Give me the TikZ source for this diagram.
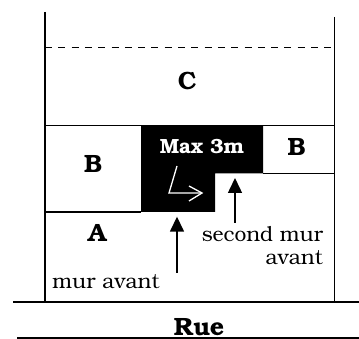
\documentclass[tikz,border=0pt]{standalone}
\usepackage[T1]{fontenc}
\usepackage{bookman}
\usetikzlibrary{arrows.meta}
\begin{document}
\begin{tikzpicture}[x=1pt,y=-1pt,
  wall/.style={line width=1.8pt},
  thin line/.style={line width=1.5pt},
  lbl/.style={inner sep=0pt,anchor=base,font=\fontsize{21}{24}\selectfont},
  blbl/.style={lbl,font=\fontsize{25}{28}\selectfont\bfseries},
  pointer/.style={line width=1.5pt,-{Triangle[length=15pt,width=14pt]}}]
\useasboundingbox (0,0) rectangle (359,339);
% black block
\fill[black] (141,125.5) -- (263,125.5) -- (263,173.5) -- (215,173.5) -- (215,212) -- (141,212) -- cycle;
% walls
\draw[wall] (45,12) -- (45,302);
\draw[wall] (334.5,17) -- (334.5,302);
\draw[thin line,dash pattern=on 7pt off 6.3pt] (45,47.5) -- (334.5,47.5);
\draw[thin line] (45,125.5) -- (334.5,125.5);
\draw[thin line] (45,212) -- (141,212);
\draw[thin line] (263,173.5) -- (334.5,173.5);
% road
\draw[thin line] (13,302) -- (359,302);
\draw[thin line] (17,338) -- (359,338);
% white arrow
\coordinate (w1) at (177,166);
\coordinate (w2) at (169,193);
\coordinate (w3) at (202,193);
\coordinate (w4) at (189,186);
\coordinate (w5) at (189,201);
\draw[white,line width=1.3pt,line join=miter] (w1) -- (w2) -- (w3);
\draw[white,line width=1.3pt] (w4) -- (w3) -- (w5);
% labels
\node[blbl] (C) at (187,90) {C};
\node[blbl] (Br) at (296.5,156) {B};
\node[blbl] (Bl) at (93,173) {B};
\node[blbl] (A) at (97,241.7) {A};
\node[blbl,white,font=\fontsize{20.5}{23}\selectfont\bfseries] (max) at (202,153.3) {Max 3m};
\node[lbl] (second) at (262.5,241.7) {second mur};
\node[lbl,anchor=base east] (avant) at (323,265) {avant};
\node[lbl] (mur) at (106,288.3) {mur avant};
\node[blbl] (rue) at (199,335) {Rue};
% pointers
\coordinate (p1s) at (177,273);
\coordinate (p1e) at (177,216.7);
\coordinate (p2s) at (235,222.7);
\coordinate (p2e) at (235,178);
\draw[pointer] (p1s) -- (p1e);
\draw[pointer] (p2s) -- (p2e);
\end{tikzpicture}
\end{document}
